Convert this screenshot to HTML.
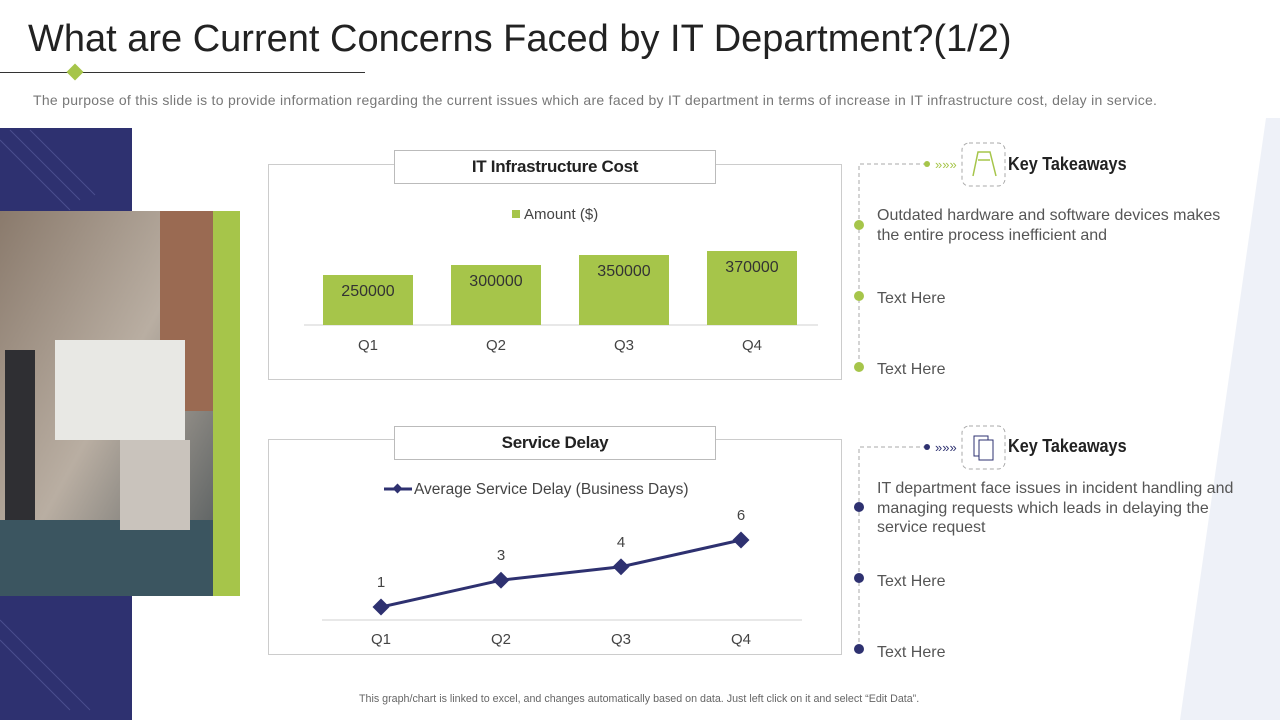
<!DOCTYPE html>
<html><head><meta charset="utf-8"><style>
*{margin:0;padding:0;box-sizing:border-box}
body{width:1280px;height:720px;overflow:hidden;background:#fff;font-family:"Liberation Sans",sans-serif;position:relative}
.abs{position:absolute}
.title{left:28px;top:18px;font-size:38px;color:#222;letter-spacing:0px;white-space:nowrap}
.sub{left:33px;top:92px;font-size:14px;color:#777;white-space:nowrap;letter-spacing:0.28px}
.box{border:1px solid #ccc;background:#fff}
.ctitle{border:1px solid #bbb;background:#fff;font-weight:bold;font-size:17px;color:#222;text-align:center;line-height:32px;letter-spacing:-0.3px}
.kt{font-weight:bold;font-size:18px;color:#222;transform:scaleX(0.9);transform-origin:left;white-space:nowrap}
.txt{font-size:16px;color:#555;line-height:19.5px;white-space:nowrap}
.dot{width:10px;height:10px;border-radius:50%}
</style></head><body>
<div class="abs title">What are Current Concerns Faced by IT Department?(1/2)</div>
<div class="abs" style="left:0;top:72px;width:365px;height:1px;background:#333"></div>
<div class="abs" style="left:69px;top:66px;width:12px;height:12px;background:#a6c54a;transform:rotate(45deg)"></div>
<div class="abs sub">The purpose of this slide is to provide information regarding the current issues which are faced by IT department in terms of increase in IT infrastructure cost, delay in service.</div>

<svg class="abs" style="left:0;top:0" width="1280" height="720">
<polygon points="1266,118 1280,118 1280,720 1180,720" fill="#eef1f8"/>
<rect x="0" y="128" width="132" height="592" fill="#2e3170"/>
<g stroke="#4a4e8e" stroke-width="1"><line x1="0" y1="140" x2="70" y2="210"/><line x1="10" y1="130" x2="80" y2="200"/><line x1="30" y1="130" x2="95" y2="195"/><line x1="0" y1="620" x2="90" y2="710"/><line x1="0" y1="640" x2="70" y2="710"/></g>
<defs><linearGradient id="ph" x1="0" y1="0" x2="1" y2="1"><stop offset="0" stop-color="#8a7a6c"/><stop offset="0.5" stop-color="#b9aea2"/><stop offset="1" stop-color="#4d5558"/></linearGradient></defs>
<rect x="0" y="211" width="213" height="385" fill="url(#ph)"/>
<rect x="160" y="211" width="53" height="200" fill="#9a6a52"/>
<rect x="55" y="340" width="130" height="100" fill="#e8e8e4"/>
<rect x="0" y="520" width="213" height="76" fill="#3b5560"/>
<rect x="5" y="350" width="30" height="170" fill="#2f2f33"/>
<rect x="120" y="440" width="70" height="90" fill="#c9c3bc"/>
<rect x="213" y="211" width="27" height="385" fill="#a6c54a"/>
</svg>

<div class="abs box" style="left:268px;top:164px;width:574px;height:216px"></div>
<div class="abs ctitle" style="left:394px;top:150px;width:322px;height:34px">IT Infrastructure Cost</div>
<div class="abs box" style="left:268px;top:439px;width:574px;height:216px"></div>
<div class="abs ctitle" style="left:394px;top:426px;width:322px;height:34px">Service Delay</div>

<svg id="charts" class="abs" style="left:0;top:0" width="1280" height="720"></svg>

<svg class="abs" style="left:840px;top:140px" width="300" height="530">
<g stroke="#aaa" stroke-dasharray="4,3" fill="none"><polyline points="87,24 19,24 19,230"/><polyline points="87,307 19,307 19,512"/>
<rect x="122" y="3" width="43" height="43" rx="7"/><rect x="122" y="286" width="43" height="43" rx="7"/></g>
<circle cx="87" cy="24" r="3" fill="#a6c54a"/><text x="95" y="29" font-size="13" fill="#a6c54a" font-family="Liberation Sans">»»»</text>
<circle cx="87" cy="307" r="3" fill="#2e3170"/><text x="95" y="312" font-size="13" fill="#2e3170" font-family="Liberation Sans">»»»</text>
<path d="M133,36 L138,12 L150,12 L156,36 M138,20 L150,20" stroke="#a6c54a" fill="none" stroke-width="1.5"/>
<rect x="134" y="296" width="14" height="20" fill="none" stroke="#2e3170"/><rect x="139" y="300" width="14" height="20" fill="#fff" stroke="#2e3170"/>
</svg>
<div class="abs kt" style="left:1008px;top:154px">Key Takeaways</div>
<div class="abs kt" style="left:1008px;top:436px">Key Takeaways</div>
<div class="abs dot" style="left:854px;top:220px;background:#a6c54a"></div>
<div class="abs dot" style="left:854px;top:291px;background:#a6c54a"></div>
<div class="abs dot" style="left:854px;top:362px;background:#a6c54a"></div>
<div class="abs dot" style="left:854px;top:502px;background:#2e3170"></div>
<div class="abs dot" style="left:854px;top:573px;background:#2e3170"></div>
<div class="abs dot" style="left:854px;top:644px;background:#2e3170"></div>
<div class="abs txt" style="left:877px;top:206px">Outdated hardware and software devices makes<br>the entire process inefficient and</div>
<div class="abs txt" style="left:877px;top:289px">Text Here</div>
<div class="abs txt" style="left:877px;top:360px">Text Here</div>
<div class="abs txt" style="left:877px;top:479px">IT department face issues in incident handling and<br>managing requests which leads in delaying the<br>service request</div>
<div class="abs txt" style="left:877px;top:572px">Text Here</div>
<div class="abs txt" style="left:877px;top:643px">Text Here</div>
<div class="abs" style="left:359px;top:693px;font-size:10.7px;color:#666;white-space:nowrap">This graph/chart is linked to excel, and changes automatically based on data. Just left click on it and select “Edit Data”.</div>

<script>
const categories=["Q1","Q2","Q3","Q4"];
const costValues=[250000,300000,350000,370000];
const delayValues=[1,3,4,6];
const NS="http://www.w3.org/2000/svg";
const svg=document.getElementById("charts");
function mk(t,a,txt){const e=document.createElementNS(NS,t);for(const k in a)e.setAttribute(k,a[k]);if(txt!==undefined)e.textContent=txt;svg.appendChild(e);return e;}
const bx=i=>368+i*128, by=v=>325-v*0.0002;
const ax1=mk("line",{x1:304,y1:325,x2:818,y2:325,stroke:"#d0d0d0"});


const lg1=mk("rect",{x:512,y:210,width:8,height:8,fill:"#a6c54a"});


const lt1=mk("text",{x:524,y:219,"font-size":15,fill:"#444"},"Amount ($)");


costValues.forEach((v,i)=>{
 const r=mk("rect",{x:bx(i)-45,y:by(v),width:90,height:325-by(v),fill:"#a6c54a"});
 
 
 const t=mk("text",{x:bx(i),y:by(v)+21,"font-size":16,fill:"#333","text-anchor":"middle"},String(v));
 
 
 const c=mk("text",{x:bx(i),y:350,"font-size":15,fill:"#444","text-anchor":"middle"},categories[i]);
 
 
});
const lx=i=>381+i*120, ly=v=>620.4-v*13.4;
const ax2=mk("line",{x1:322,y1:620,x2:802,y2:620,stroke:"#d0d0d0"});


const ll=mk("line",{x1:384,y1:489,x2:412,y2:489,stroke:"#2e3170","stroke-width":3});


const ld=mk("rect",{x:394,y:485,width:7,height:7,fill:"#2e3170",transform:"rotate(45 397.5 488.5)"});


const lt2=mk("text",{x:414,y:494,"font-size":15.5,fill:"#444"},"Average Service Delay (Business Days)");


const pl=mk("polyline",{points:delayValues.map((v,i)=>lx(i)+","+ly(v)).join(" "),fill:"none",stroke:"#2e3170","stroke-width":3});


delayValues.forEach((v,i)=>{
 const p=mk("rect",{x:lx(i)-6,y:ly(v)-6,width:12,height:12,fill:"#2e3170",transform:`rotate(45 ${lx(i)} ${ly(v)})`});
 
 
 const t=mk("text",{x:lx(i),y:ly(v)-20,"font-size":15,fill:"#444","text-anchor":"middle"},String(v));
 
 
 const c=mk("text",{x:lx(i),y:644,"font-size":15,fill:"#444","text-anchor":"middle"},categories[i]);
 
 
});
</script>
</body></html>
